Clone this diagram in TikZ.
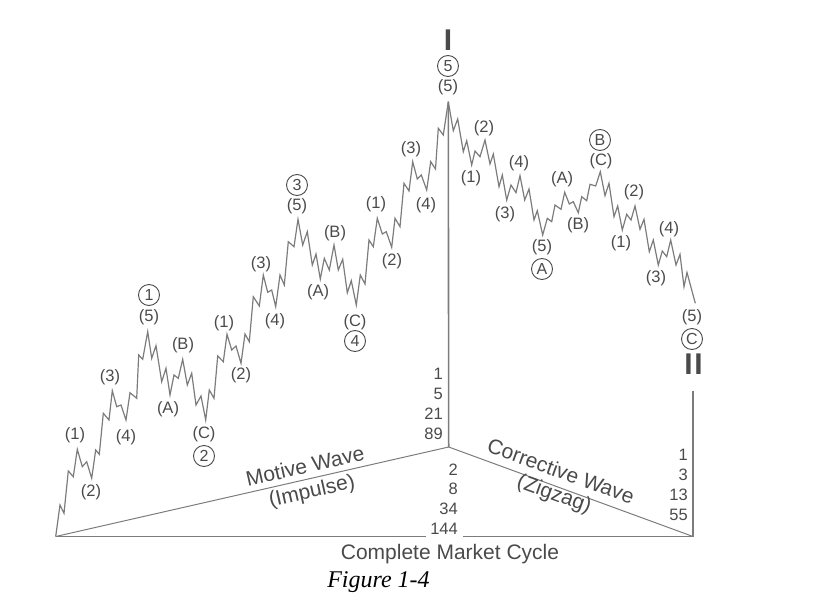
\documentclass[tikz,border=0pt]{standalone}
\usepackage{fontspec}
\setmainfont{Liberation Sans}
\newfontfamily\figfont{Liberation Serif}
\definecolor{inkgray}{HTML}{4A4A4A}
\definecolor{linegray}{HTML}{7C7C7C}
\begin{document}
\begin{tikzpicture}[x=1pt,y=-1pt,font=\fontsize{16.5}{19}\selectfont,text=inkgray]
    \tikzset{
        wave/.style={draw=linegray, line width=1.2pt, line join=miter},
        baseline/.style={draw=linegray, line width=1.6pt},
        lbl/.style={inner sep=0pt},
        circled/.style={draw=inkgray, circle, line width=0.9pt, inner sep=0pt, minimum size=21pt, font=\fontsize{16}{18}\selectfont},
        degree/.style={inner sep=0pt, font=\bfseries\fontsize{30}{30}\selectfont},
        count/.style={inner sep=0pt, align=right, font=\fontsize{16.5}{19.8}\selectfont},
        title/.style={inner sep=0pt, align=center, font=\fontsize{21}{23}\selectfont}
    }
    \useasboundingbox (0,0) rectangle (828,597);
    \coordinate (start) at (55.7,536.5);
    \coordinate (peak) at (448.3,101.7);
    \coordinate (mid) at (448.7,447);
    \coordinate (finish) at (693,536.5);
    \coordinate (rtop) at (693,390.5);
    \coordinate (gapl) at (426,536.5);
    \coordinate (gapr) at (463,536.5);
    \coordinate (waveend) at (695.3,303.3);
    % impulse leg
    \draw[wave] (start) -- (60,505) -- (64,513.3) -- (68.3,471) -- (73.3,476.7) -- (77.3,449.3) -- (82.3,466.7) -- (86.7,461.7) -- (91.7,478.3) -- (95.7,450) -- (99.3,454.3) -- (103.3,413.3) -- (109,420) -- (112.3,390.7) -- (116.7,406.7) -- (121,405) -- (126,420) -- (130,392.7) -- (136.7,398.3) -- (138.7,355) -- (142.7,359.3) -- (147.7,331.7) -- (151.7,358.3) -- (156,345.7) -- (161.7,381.7) -- (166,368.3) -- (170,395) -- (174,375) -- (178.3,378.3) -- (182.7,359.3) -- (187.3,385) -- (191.7,373.3) -- (196,405) -- (201,396) -- (205.7,420) -- (209.3,390) -- (214,398.3) -- (217.7,356) -- (223.3,361.7) -- (227,334.3) -- (231.7,350) -- (236,346) -- (241,363.3) -- (245,334) -- (249.3,341.7) -- (253.3,296.7) -- (259.3,306) -- (263.3,275) -- (267.7,292.3) -- (271.7,290) -- (275.7,306.7) -- (280,275) -- (284.3,285) -- (288.3,241.7) -- (294,246.7) -- (298,219.3) -- (302.7,245) -- (307.3,231.7) -- (312.3,265) -- (316,254) -- (320.3,279) -- (324.3,258.3) -- (329.3,270) -- (334,245) -- (338.3,270) -- (342.7,259.3) -- (347.3,292.7) -- (351.3,280.7) -- (356.3,305) -- (360.3,275) -- (365,284) -- (369,240) -- (373.3,246.7) -- (377.3,218.3) -- (382.3,234) -- (386.3,231.7) -- (391.7,247.3) -- (395,218.3) -- (400,226.7) -- (404,183.3) -- (409,191) -- (412.7,161.7) -- (417.3,179) -- (421.3,175) -- (426.7,190) -- (430.7,161.7) -- (435.5,169) -- (438.3,128.3) -- (443.3,135) -- (peak);
    % zigzag leg
    \draw[wave] (peak) -- (453.3,130.7) -- (457.7,119) -- (463.3,151.7) -- (466.7,140.7) -- (471.7,165) -- (475,151) -- (480,156.7) -- (485,140) -- (490,164) -- (493.3,154) -- (499,186.7) -- (502.3,175) -- (506.7,200) -- (511,185) -- (516,192.7) -- (520,175.7) -- (524.7,200) -- (529,189) -- (534,220) -- (537.3,210.7) -- (542.7,235) -- (547.3,218.3) -- (551.7,221.7) -- (555,205) -- (561,209.3) -- (564.7,192.3) -- (569.3,204) -- (573.3,201.7) -- (578.3,212.7) -- (581.7,196.7) -- (586.7,200.7) -- (590,184.3) -- (595.7,186) -- (600.3,171.7) -- (605,195.7) -- (609,183.3) -- (614,216.7) -- (617.7,206) -- (622.3,230) -- (626.7,214.3) -- (631,220) -- (635,206) -- (640,229.3) -- (644,219.3) -- (649.3,251.7) -- (653.3,240) -- (658.3,265) -- (662.3,251) -- (666.7,256.7) -- (670.7,240) -- (676,265) -- (680,254.3) -- (684,286.7) -- (687,272.5) -- (waveend);
    % frame lines
    \draw[baseline] (peak) -- (mid);
    \draw[wave, line width=1pt] (start) -- (mid);
    \draw[wave, line width=1pt] (mid) -- (finish);
    \draw[baseline] (start) -- (gapl);
    \draw[baseline] (gapr) -- (finish);
    \draw[baseline] (rtop) -- (finish);
    % wave labels
    \foreach \px/\py/\txt [count=\i] in {75/435/1, 91/492/2, 110/377/3, 126/437/4, 149/317/5, 183/345/B, 168/409/A, 204/434/C,
        224/323/1, 241/375/2, 261/264/3, 275/321/4, 297/206/5, 318/292/A, 335/233/B, 355/322/C,
        376/204/1, 392/261/2, 411/149/3, 426/205/4, 448/87/5, 484/128/2, 471/178/1, 519/163/4, 505/214/3, 542/247/5,
        562/179/A, 578/225/B, 601/161/C, 621/243/1, 634/192/2, 656/278/3, 669/229/4, 692/317/5}
        \node[lbl] (lbl\i) at (\px,\py) {(\txt)};
    \foreach \px/\py/\txt [count=\i] in {149/295/1, 204/456/2, 297/185/3, 355/341/4, 448/66/5, 542/269/A, 600/140/B, 692/339/C}
        \node[circled] (circ\i) at (\px,\py) {\txt};
    \node[degree] (degone) at (448,40) {I};
    \node[degree] (degtwo) at (693.5,364) {I\kern1.6ptI};
    % counts
    \node[count, anchor=east] (cntup) at (443,404) {1\\5\\21\\89};
    \node[count, anchor=east] (cntlow) at (458,499) {2\\8\\34\\144};
    \node[count, anchor=east] (cntright) at (688,485) {1\\3\\13\\55};
    % titles
    \node[title, rotate=12.8] (motive) at (305,466) {Motive Wave};
    \node[title, rotate=12.8] (impulse) at (312,492) {(Impulse)};
    \node[title, rotate=-20] (corrective) at (561,471) {Corrective Wave};
    \node[title, rotate=-20] (zigzag) at (554,495) {(Zigzag)};
    \node[title] (cycle) at (450,554) {Complete Market Cycle};
    \node[inner sep=0pt, font=\figfont\itshape\fontsize{24}{26}\selectfont, text=black] (figlabel) at (378.5,582) {Figure 1-4};
\end{tikzpicture}
\end{document}
